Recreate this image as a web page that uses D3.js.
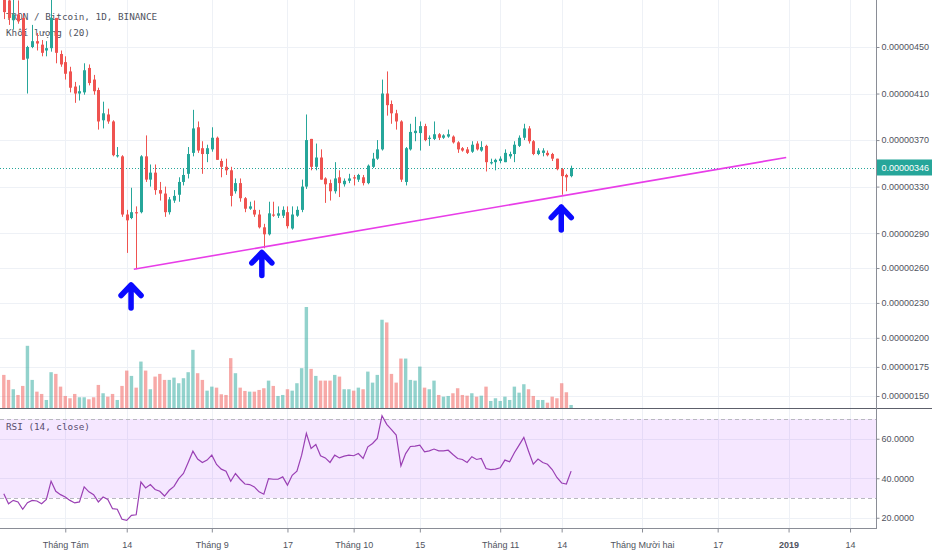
<!DOCTYPE html>
<html>
<head>
<meta charset="utf-8">
<script src="https://d3js.org/d3.v7.min.js"></script>
<style>
  body { margin: 0; background: #fff; }
  svg { display: block; }
</style>
</head>
<body>
<div id="chart"></div>
<script>
// TRX/BTC daily, 2018-07-19 .. 2018-11-16, prices in satoshi (1e-8 BTC)
const firstDay = new Date(2018, 6, 19);

const opens = [497,490,473,478,475,440,450,455,452,447,449,475,444,437,429,416,410,411,432,422,
  413,387,392,386,356,356,306,303,308,308,356,336,342,327,324,308,318,323,334,341,
  359,381,363,358,362,372,352,347,344,326,333,320,311,310,306,295,289,306,305,305,
  308,294,305,310,330,371,347,355,337,333,326,338,332,335,338,336,338,333,347,354,
  362,410,401,393,386,334,362,376,376,382,371,371,375,372,373,373,368,363,362,360,
  367,361,365,350,351,352,351,356,358,365,372,380,369,358,359,359,358,354,345,340,339];
const highs = [503,495,493,490,479,451,469,462,456,455,495,475,447,442,433,420,417,436,435,426,
  415,403,397,387,364,357,310,329,313,357,374,349,349,334,330,321,327,338,346,364,
  396,386,369,366,381,373,354,354,347,337,337,321,317,318,310,298,317,317,313,313,
  313,313,313,336,392,371,367,362,338,336,351,344,337,341,340,341,340,349,359,370,
  422,429,404,396,387,364,384,390,386,384,374,386,376,375,379,374,369,364,364,369,
  369,369,366,354,354,356,362,360,369,374,384,382,370,363,363,361,359,354,346,341,348];
const lows = [474,469,465,470,439,410,449,447,442,442,446,436,433,422,411,402,404,409,417,409,
  379,380,384,356,355,304,273,302,259,307,334,330,323,318,304,306,316,317,331,337,
  356,359,341,351,360,353,338,340,313,324,317,308,310,304,294,277,288,304,303,303,
  294,293,304,308,328,344,344,336,316,318,324,321,330,333,331,334,331,332,346,353,
  361,391,384,379,334,331,361,369,361,369,365,370,370,371,372,367,359,360,358,359,
  361,360,343,349,344,350,351,354,351,364,370,367,357,357,356,356,352,344,323,326,338];
const closes = [480,475,478,472,439,450,455,453,445,449,475,445,435,427,415,410,412,430,419,412,
  386,393,386,357,357,306,301,308,307,356,336,342,327,324,308,319,322,334,340,358,
  380,361,358,363,372,353,347,344,322,333,320,311,313,306,295,289,307,305,307,310,
  296,306,310,330,370,347,355,336,332,326,337,333,335,337,337,340,333,348,354,362,
  410,400,393,386,336,363,377,378,382,370,372,375,372,374,375,368,362,361,359,366,
  362,364,351,351,353,354,359,358,366,372,380,369,358,361,361,357,354,345,339,338,346];
// volume, millions of TRX
const volumes = [33,28,18.7,13,22,62,28,16.3,14,8,35.7,34,21.3,12,9.7,14,10.7,10.7,8.7,10.7,
  23,14.7,11.3,14,8,22,37.3,32,20.3,46.3,37.3,18.7,31.3,34,28,28,30.3,24.7,29.7,35.7,
  58,34.7,28,17.3,21.3,20.3,13.7,13,49.7,34.7,20.3,17,16.3,16.3,18,19.7,27.3,22,12,13,
  18.7,17.3,24.7,39.7,100.7,39,32,27.3,27.3,27.3,33,31.3,18.7,18.7,17.3,20.3,18.7,36.3,25.3,33,
  88,85.3,34,25.3,49.3,49.3,28,27.3,41.3,20.3,18.7,27.3,13,11.3,12,14.7,19.7,13,12.3,14.7,
  11.3,12.3,21.3,7,9.7,7,11.3,8,21.3,15.3,23.7,18.7,12,8,8,5.3,11.3,9.7,24.7,15.7,3];
const rsiValues = [32.2,27.1,28.8,28.0,24.3,27.6,28.8,28.5,27.1,29.3,38.5,33.4,31.7,30.5,28.8,27.5,28.0,35.6,33.1,31.7,
  28.0,30.5,29.3,24.6,24.3,19.2,18.7,21.2,21.5,38.1,35.1,36.8,34.3,33.4,31.0,33.9,35.9,39.8,42.4,48.0,
  53.7,49.7,48.0,49.2,51.7,47.0,44.6,43.6,38.5,42.4,39.5,37.1,36.8,35.6,33.1,31.9,39.8,39.5,39.5,40.7,
  36.5,41.5,43.6,51.7,62.7,55.1,57.1,51.4,50.3,48.0,51.7,50.3,51.2,51.7,51.4,52.5,50.0,55.9,57.6,60.2,
  71.7,67.3,64.6,61.9,46.3,52.5,56.1,56.3,56.8,53.4,53.9,54.8,53.9,53.9,54.2,52.0,50.0,49.5,48.0,50.9,
  49.5,50.0,44.9,44.4,44.6,45.3,49.2,48.3,52.9,56.8,60.7,53.7,47.1,49.7,48.0,47.1,44.4,40.4,37.6,37.1,43.6];

const priceTicks = [450, 410, 370, 330, 290, 260, 230, 200, 175, 150];
const rsiTicks = [60, 40, 20];
const dateTicks = [new Date(2018, 7, 1), new Date(2018, 7, 14), new Date(2018, 8, 1), new Date(2018, 8, 17),
  new Date(2018, 9, 1), new Date(2018, 9, 15), new Date(2018, 10, 1), new Date(2018, 10, 14),
  new Date(2018, 11, 1), new Date(2018, 11, 17), new Date(2019, 0, 1), new Date(2019, 0, 14)];
const dateTickLabels = ["Tháng Tám", "14", "Tháng 9", "17", "Tháng 10", "15", "Tháng 11", "14",
  "Tháng Mười hai", "17", "2019", "14"];

// drawn support line and the three touch arrows
const trendDates = [new Date(2018, 7, 15, 12), new Date(2018, 11, 31, 12)];
const trendPrices = [259, 355];
const arrowDates = [new Date(2018, 7, 14, 22), new Date(2018, 8, 11, 14), new Date(2018, 10, 13, 22)];
const arrowPrices = [248, 276, 315];
const lastPrice = 346;

const WIDTH = 932;
const HEIGHT = 550;
const PLOT_RIGHT = 876;
const MAIN_BOTTOM = 408;
const RSI_BOTTOM = 528;

const UP = "#26a69a";
const DOWN = "#ef5350";
const GRID = "#eef1f6";
const TEXT = "#50535e";
const AXIS_FONT = "9px";

const bars = d3.range(closes.length).map((i) => ({
  date: d3.timeDay.offset(firstDay, i),
  open: opens[i],
  high: highs[i],
  low: lows[i],
  close: closes[i],
  volume: volumes[i],
  rsi: rsiValues[i],
}));

const svg = d3
  .select("#chart")
  .append("svg")
  .attr("width", WIDTH)
  .attr("height", HEIGHT)
  .style("font-family", "'Liberation Sans', Arial, sans-serif");

const x = d3
  .scaleTime()
  .domain([new Date(2018, 6, 18, 4, 40), new Date(2019, 0, 19, 11, 50)])
  .range([0, PLOT_RIGHT]);

const y = d3.scaleLinear().domain([150, 450]).range([396, 47]);
const yVol = d3.scaleLinear().domain([0, d3.max(volumes)]).range([MAIN_BOTTOM, 307]);
const yRsi = d3.scaleLinear().domain([30, 70]).range([498, 419]);

const fmtPrice = (d) => (d * 1e-8).toFixed(8);

svg.append("defs").append("clipPath").attr("id", "main-clip")
  .append("rect").attr("x", 0).attr("y", 0).attr("width", PLOT_RIGHT).attr("height", MAIN_BOTTOM);

// grid
const grid = svg.append("g");
grid.selectAll(".hgrid")
  .data(priceTicks)
  .enter()
  .append("line")
  .attr("x1", 0)
  .attr("x2", PLOT_RIGHT)
  .attr("y1", (d) => Math.round(y(d)) + 0.5)
  .attr("y2", (d) => Math.round(y(d)) + 0.5)
  .attr("stroke", GRID);
grid.selectAll(".rgrid")
  .data(rsiTicks)
  .enter()
  .append("line")
  .attr("x1", 0)
  .attr("x2", PLOT_RIGHT)
  .attr("y1", (d) => Math.round(yRsi(d)) + 0.5)
  .attr("y2", (d) => Math.round(yRsi(d)) + 0.5)
  .attr("stroke", GRID);
grid.selectAll(".vgrid")
  .data(dateTicks)
  .enter()
  .append("line")
  .attr("x1", (d) => Math.round(x(d)) + 0.5)
  .attr("x2", (d) => Math.round(x(d)) + 0.5)
  .attr("y1", 0)
  .attr("y2", RSI_BOTTOM)
  .attr("stroke", GRID);

// legend (candles draw over it, as in the original)
svg.append("g")
  .attr("font-family", "'DejaVu Sans Mono', 'Liberation Mono', monospace")
  .attr("font-size", "9.3px")
  .attr("fill", TEXT)
  .selectAll("text")
  .data([["TRON / Bitcoin, 1D, BINANCE", 20], ["Khối lượng (20)", 36], ["RSI (14, close)", 430]])
  .enter()
  .append("text")
  .attr("x", 6)
  .attr("y", (d) => d[1])
  .text((d) => d[0]);

const main = svg.append("g").attr("clip-path", "url(#main-clip)");

// volume overlay
main.append("g")
  .selectAll("rect")
  .data(bars)
  .enter()
  .append("rect")
  .attr("x", (d) => x(d.date) - 1.7)
  .attr("width", 3.4)
  .attr("y", (d) => yVol(d.volume))
  .attr("height", (d) => MAIN_BOTTOM - yVol(d.volume))
  .attr("fill", (d) => (d.close >= d.open ? UP : DOWN))
  .attr("fill-opacity", 0.5);

// last price dotted line
main.append("line")
  .attr("x1", 0)
  .attr("x2", PLOT_RIGHT)
  .attr("y1", Math.round(y(lastPrice)) + 0.5)
  .attr("y2", Math.round(y(lastPrice)) + 0.5)
  .attr("stroke", UP)
  .attr("stroke-dasharray", "1,2");

// candles
const candles = main.append("g").selectAll("g").data(bars).enter().append("g");
candles.append("line")
  .attr("x1", (d) => Math.round(x(d.date)) + 0.5)
  .attr("x2", (d) => Math.round(x(d.date)) + 0.5)
  .attr("y1", (d) => y(d.high))
  .attr("y2", (d) => y(d.low))
  .attr("stroke", (d) => (d.close >= d.open ? UP : DOWN));
candles.append("rect")
  .attr("x", (d) => Math.round(x(d.date)) - 1)
  .attr("width", 3)
  .attr("y", (d) => y(Math.max(d.open, d.close)))
  .attr("height", (d) => Math.max(1, Math.abs(y(d.open) - y(d.close))))
  .attr("fill", (d) => (d.close >= d.open ? UP : DOWN));

// support line
main.append("line")
  .attr("x1", x(trendDates[0]))
  .attr("y1", y(trendPrices[0]))
  .attr("x2", x(trendDates[1]))
  .attr("y2", y(trendPrices[1]))
  .attr("stroke", "#e83de8")
  .attr("stroke-width", 1.6);

// arrows
main.append("g")
  .selectAll("path")
  .data(arrowDates)
  .enter()
  .append("path")
  .attr("transform", (d, i) => `translate(${x(d)}, ${y(arrowPrices[i]) + 3})`)
  .attr("d", "M-10,10.5 L0,0 L10,10.5 M0,0 L0,23")
  .attr("fill", "none")
  .attr("stroke", "#0a0aff")
  .attr("stroke-width", 5.5)
  .attr("stroke-linecap", "round")
  .attr("stroke-linejoin", "round");

// RSI pane
svg.append("rect")
  .attr("x", 0)
  .attr("width", PLOT_RIGHT)
  .attr("y", yRsi(70))
  .attr("height", yRsi(30) - yRsi(70))
  .attr("fill", "rgb(153, 21, 255)")
  .attr("fill-opacity", 0.1);
svg.append("g")
  .selectAll("line")
  .data([70, 30])
  .enter()
  .append("line")
  .attr("x1", 0)
  .attr("x2", PLOT_RIGHT)
  .attr("y1", (d) => Math.round(yRsi(d)) + 0.5)
  .attr("y2", (d) => Math.round(yRsi(d)) + 0.5)
  .attr("stroke", "#b8b8c0")
  .attr("stroke-dasharray", "4,3");
svg.append("path")
  .datum(bars)
  .attr("fill", "none")
  .attr("stroke", "#9a40b4")
  .attr("stroke-width", 1.2)
  .attr("d", d3.line().x((d) => x(d.date)).y((d) => yRsi(d.rsi)));

// frame lines
svg.append("line")
  .attr("x1", 0).attr("x2", WIDTH)
  .attr("y1", MAIN_BOTTOM + 0.5).attr("y2", MAIN_BOTTOM + 0.5)
  .attr("stroke", "#5d606b");
svg.append("line")
  .attr("x1", PLOT_RIGHT + 0.5).attr("x2", PLOT_RIGHT + 0.5)
  .attr("y1", 0).attr("y2", RSI_BOTTOM)
  .attr("stroke", "#8a8d96");
svg.append("line")
  .attr("x1", 0).attr("x2", PLOT_RIGHT + 1)
  .attr("y1", RSI_BOTTOM + 0.5).attr("y2", RSI_BOTTOM + 0.5)
  .attr("stroke", "#8a8d96");

// price axis
const yAxisGroup = svg.append("g")
  .attr("transform", `translate(${PLOT_RIGHT + 0.5}, 0)`)
  .call(d3.axisRight(y).tickValues(priceTicks).tickFormat(fmtPrice).tickSize(3).tickPadding(2));
const rsiAxisGroup = svg.append("g")
  .attr("transform", `translate(${PLOT_RIGHT + 0.5}, 0)`)
  .call(d3.axisRight(yRsi).tickValues(rsiTicks).tickFormat((d) => d.toFixed(4)).tickSize(3).tickPadding(2));
const xAxisGroup = svg.append("g")
  .attr("transform", `translate(0, ${RSI_BOTTOM + 0.5})`)
  .call(d3.axisBottom(x).tickValues(dateTicks).tickFormat((d, i) => dateTickLabels[i]).tickSize(4).tickPadding(9));

[yAxisGroup, rsiAxisGroup, xAxisGroup].forEach((g) => {
  g.select(".domain").remove();
  g.selectAll(".tick line").attr("stroke", "#8a8d96");
  g.selectAll(".tick text")
    .attr("fill", TEXT)
    .attr("font-size", AXIS_FONT)
    .attr("font-family", "'Liberation Sans', Arial, sans-serif");
});
xAxisGroup.selectAll(".tick text")
  .filter((d, i) => dateTickLabels[i] === "2019")
  .attr("font-weight", "bold");

// last price tag
const tagY = y(lastPrice);
svg.append("rect")
  .attr("x", PLOT_RIGHT + 1)
  .attr("y", tagY - 8.5)
  .attr("width", WIDTH - PLOT_RIGHT - 1)
  .attr("height", 16)
  .attr("fill", UP);
svg.append("text")
  .attr("x", PLOT_RIGHT + 5.5)
  .attr("y", tagY + 3.2)
  .attr("fill", "#fff")
  .attr("font-size", AXIS_FONT)
  .text(fmtPrice(lastPrice));
</script>
</body>
</html>
